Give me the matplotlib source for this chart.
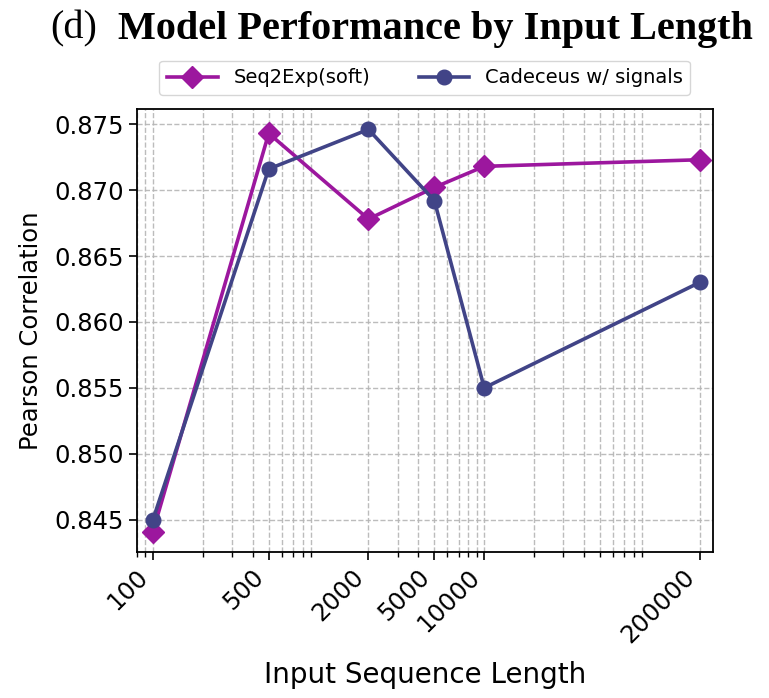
import matplotlib
matplotlib.use("Agg")
import matplotlib.pyplot as plt
from matplotlib.ticker import LogLocator, NullFormatter

lengths = [100, 500, 2000, 5000, 10000, 200000]
tick_labels = ["100", "500", "2000", "5000", "10000", "200000"]
seq2exp = [0.8441, 0.8743, 0.8678, 0.8702, 0.8718, 0.8723]
cadeceus = [0.8450, 0.8716, 0.8746, 0.8692, 0.8550, 0.8630]
series_names = ["Seq2Exp(soft)", "Cadeceus w/ signals"]
colors = ["#9c179e", "#414487"]
yticks = [0.845, 0.850, 0.855, 0.860, 0.865, 0.870, 0.875]

fig = plt.figure(figsize=(7.69, 6.98), dpi=100)
ax = fig.add_axes([0.178, 0.2096, 0.749, 0.6338])

ax.plot(lengths, seq2exp, marker="D", color=colors[0], lw=2.6, ms=11, label=series_names[0], zorder=3)
ax.plot(lengths, cadeceus, marker="o", color=colors[1], lw=2.6, ms=10.5, label=series_names[1], zorder=3)

ax.set_xscale("log")
ax.set_xlim(80, 240000)
ax.set_xticks(lengths)
ax.set_xticklabels(tick_labels, rotation=45, ha="right", fontsize=17.5)
ax.xaxis.set_minor_locator(LogLocator(base=10, subs=range(2, 10), numticks=50))
ax.xaxis.set_minor_formatter(NullFormatter())
ax.set_yticks(yticks)
ax.set_yticklabels([f"{v:.3f}" for v in yticks], fontsize=17.5)
ax.tick_params(axis="both", which="major", length=6, width=1.2)
ax.tick_params(axis="x", which="minor", length=3.5, width=1)

ax.grid(True, which="major", linestyle="--", color="#b5b5b5", linewidth=1, alpha=0.9)
ax.grid(True, which="minor", axis="x", linestyle="--", color="#b5b5b5", linewidth=1, alpha=0.9)
ax.set_axisbelow(True)
for s in ax.spines.values():
    s.set_linewidth(1.3)

ax.set_xlabel("Input Sequence Length", fontsize=20, labelpad=10)
ax.set_ylabel("Pearson Correlation", fontsize=17.5, labelpad=8)

leg = ax.legend(loc="lower center", bbox_to_anchor=(0.5, 1.01), ncol=2, fontsize=14,
                frameon=True, fancybox=True, columnspacing=2.5, handlelength=2.6,
                handletextpad=0.8, borderpad=0.4)
leg.get_frame().set_edgecolor("#cccccc")

fig.text(0.065, 0.958, "(d)", fontsize=29, family="Liberation Serif", ha="left", va="center")
fig.text(0.153, 0.958, "Model Performance by Input Length", fontsize=29, family="Liberation Serif",
         fontweight="bold", ha="left", va="center")

fig.savefig("out.png", dpi=100)
